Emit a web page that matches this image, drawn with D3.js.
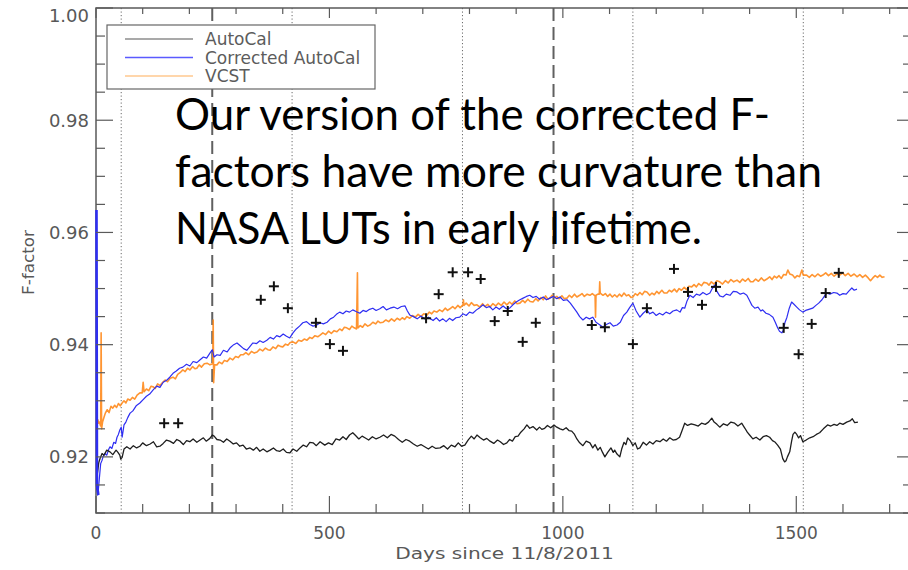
<!DOCTYPE html>
<html>
<head>
<meta charset="utf-8">
<script src="https://cdn.jsdelivr.net/npm/d3@7"></script>
<style>
  body { margin: 0; background: #fff; }
  svg { display: block; }
</style>
</head>
<body>
<svg id="chart" width="908" height="570"></svg>
<script>
// F-factor time series, days since 11/8/2011
const autocalDays = [0,2,4,6,9,13,17,23,30,36,43,47,51,53,56,60,66,73,80,87,94,100,108,116,123,130,137,144,151,158,166,173,180,187,194,201,208,216,223,230,236,244,249,253,259,266,273,280,287,294,301,308,315,322,330,337,344,351,358,366,373,380,387,394,401,408,415,422,430,437,444,451,458,465,472,480,490,498,506,514,522,529,536,543,550,556,563,570,576,584,592,600,608,616,624,632,640,648,656,664,672,680,688,696,704,712,720,728,737,745,753,761,769,776,783,790,797,804,810,816,823,830,837,844,852,860,866,873,880,886,892,898,904,910,917,923,929,936,944,950,955,961,967,974,981,987,994,1000,1007,1013,1019,1025,1030,1036,1043,1050,1058,1064,1069,1075,1080,1085,1090,1096,1103,1108,1111,1116,1122,1126,1131,1135,1139,1145,1150,1155,1160,1165,1172,1179,1186,1193,1200,1208,1215,1222,1229,1236,1243,1250,1255,1261,1267,1275,1283,1290,1297,1305,1312,1319,1324,1330,1336,1344,1352,1360,1368,1375,1383,1390,1395,1400,1407,1414,1422,1429,1436,1443,1449,1455,1460,1466,1471,1475,1478,1481,1486,1490,1493,1497,1501,1505,1509,1514,1521,1529,1536,1543,1550,1558,1567,1574,1581,1587,1593,1600,1608,1615,1620,1625,1632];
const autocalValues = [.9141,.9165,.9177,.9190,.9198,.9206,.9203,.9212,.9209,.9204,.9212,.9208,.9203,.9196,.9199,.9214,.9218,.9214,.9220,.9216,.9219,.9225,.9220,.9223,.9227,.9218,.9219,.9224,.9230,.9228,.9224,.9231,.9228,.9222,.9229,.9227,.9232,.9226,.9230,.9234,.9228,.9233,.9239,.9237,.9231,.9230,.9226,.9232,.9228,.9223,.9225,.9219,.9221,.9214,.9216,.9212,.9217,.9210,.9214,.9209,.9212,.9216,.9211,.9210,.9214,.9208,.9207,.9214,.9210,.9216,.9221,.9218,.9226,.9225,.9220,.9227,.9221,.9225,.9222,.9232,.9230,.9236,.9231,.9239,.9243,.9238,.9232,.9237,.9234,.9230,.9236,.9232,.9235,.9239,.9234,.9240,.9237,.9231,.9226,.9231,.9228,.9223,.9219,.9222,.9218,.9214,.9219,.9215,.9216,.9220,.9214,.9221,.9218,.9225,.9219,.9221,.9230,.9237,.9232,.9239,.9234,.9230,.9233,.9228,.9224,.9230,.9227,.9222,.9225,.9231,.9228,.9236,.9237,.9244,.9250,.9257,.9251,.9254,.9248,.9253,.9249,.9251,.9256,.9252,.9257,.9253,.9250,.9248,.9252,.9247,.9246,.9240,.9232,.9225,.9220,.9228,.9225,.9216,.9222,.9212,.9217,.9208,.9200,.9208,.9216,.9208,.9212,.9205,.9200,.9214,.9226,.9222,.9234,.9228,.9220,.9225,.9214,.9216,.9226,.9221,.9227,.9223,.9229,.9227,.9232,.9228,.9234,.9230,.9231,.9235,.9246,.9260,.9256,.9259,.9257,.9255,.9260,.9258,.9262,.9269,.9262,.9258,.9253,.9259,.9256,.9262,.9260,.9255,.9260,.9251,.9244,.9239,.9232,.9235,.9230,.9236,.9238,.9235,.9229,.9226,.9221,.9214,.9197,.9191,.9193,.9200,.9209,.9228,.9240,.9244,.9240,.9234,.9238,.9227,.9230,.9234,.9236,.9240,.9243,.9250,.9257,.9255,.9258,.9256,.9260,.9258,.9262,.9264,.9268,.9261,.9262];

const correctedDays = [0,1,4,7,10,13,15,19,23,27,30,34,38,42,45,48,51,54,56,58,60,64,68,73,79,86,94,101,108,115,122,130,137,144,152,158,165,172,179,186,194,201,208,216,223,230,237,244,249,253,259,266,273,281,288,295,302,309,316,323,330,336,344,351,358,366,373,380,387,394,401,408,415,422,429,436,443,451,458,465,473,480,487,495,502,509,515,522,529,536,543,550,557,565,572,579,586,593,600,608,615,622,630,638,646,654,662,667,672,680,688,696,704,712,715,722,729,736,743,750,757,764,771,779,786,793,800,807,815,822,829,836,843,850,857,864,872,879,886,893,900,908,915,922,929,936,943,950,958,965,972,980,987,994,1001,1009,1016,1023,1030,1036,1043,1050,1057,1064,1071,1078,1086,1093,1101,1108,1116,1123,1130,1137,1143,1150,1157,1165,1172,1180,1186,1193,1200,1207,1214,1221,1229,1236,1244,1251,1256,1261,1266,1272,1279,1286,1293,1300,1308,1315,1320,1325,1330,1336,1343,1350,1358,1365,1373,1380,1387,1394,1399,1405,1411,1418,1424,1428,1435,1442,1450,1455,1460,1464,1469,1472,1476,1480,1485,1490,1495,1501,1507,1514,1520,1527,1535,1542,1548,1555,1560,1565,1572,1580,1587,1593,1600,1607,1613,1619,1624,1630];
const correctedValues = [.9640,.9150,.9132,.9160,.9188,.9194,.9200,.9206,.9203,.9213,.9218,.9215,.9226,.9224,.9235,.9240,.9248,.9253,.9235,.9246,.9257,.9262,.9270,.9278,.9282,.9291,.9296,.9302,.9308,.9312,.9319,.9326,.9324,.9333,.9337,.9342,.9349,.9353,.9358,.9360,.9365,.9362,.9370,.9368,.9373,.9378,.9376,.9385,.9391,.9378,.9382,.9381,.9390,.9387,.9395,.9400,.9403,.9398,.9393,.9390,.9397,.9403,.9402,.9407,.9404,.9408,.9413,.9410,.9416,.9414,.9419,.9415,.9412,.9421,.9428,.9433,.9439,.9441,.9436,.9433,.9435,.9439,.9437,.9440,.9446,.9449,.9454,.9458,.9455,.9460,.9458,.9462,.9459,.9456,.9461,.9459,.9463,.9465,.9461,.9464,.9468,.9462,.9465,.9467,.9464,.9468,.9469,.9460,.9453,.9450,.9446,.9451,.9446,.9449,.9447,.9443,.9448,.9442,.9446,.9441,.9447,.9443,.9448,.9449,.9455,.9452,.9458,.9456,.9462,.9466,.9471,.9466,.9468,.9462,.9467,.9463,.9469,.9464,.9465,.9471,.9476,.9480,.9483,.9486,.9488,.9484,.9486,.9481,.9485,.9480,.9483,.9486,.9482,.9485,.9479,.9480,.9474,.9466,.9458,.9450,.9444,.9449,.9446,.9449,.9440,.9436,.9431,.9436,.9439,.9433,.9435,.9440,.9452,.9458,.9466,.9474,.9460,.9449,.9456,.9462,.9455,.9458,.9452,.9456,.9453,.9458,.9455,.9460,.9462,.9458,.9466,.9465,.9478,.9488,.9484,.9490,.9488,.9493,.9489,.9492,.9500,.9506,.9495,.9487,.9485,.9490,.9488,.9495,.9494,.9490,.9492,.9488,.9480,.9470,.9465,.9467,.9460,.9462,.9456,.9454,.9449,.9440,.9430,.9424,.9421,.9425,.9440,.9449,.9465,.9476,.9472,.9467,.9462,.9458,.9461,.9463,.9465,.9470,.9474,.9480,.9486,.9492,.9490,.9493,.9492,.9488,.9491,.9490,.9496,.9501,.9497,.9499];

const vcstDays = [0,2,4,6,8,9,10,11,12,14,17,20,24,28,32,36,40,44,48,52,56,60,64,68,73,78,83,88,94,99,101,103,108,113,118,122,127,132,137,143,148,153,159,165,170,175,180,186,191,196,201,207,212,216,221,226,232,238,244,250,251,252,254,259,264,270,275,281,287,293,299,305,310,315,321,327,333,339,345,351,357,363,368,373,379,385,390,395,400,406,411,416,422,428,434,440,446,452,458,463,469,475,480,486,492,498,504,510,516,522,527,532,537,543,548,553,558,560,561,566,571,576,582,587,593,599,604,609,615,621,627,633,639,645,651,656,661,666,672,678,684,690,696,702,709,714,719,724,730,736,742,748,753,758,764,769,775,780,786,787,788,793,799,804,810,816,822,828,833,839,844,850,856,862,868,874,880,886,891,897,902,908,914,919,925,930,936,942,947,953,958,963,968,972,977,982,987,992,998,1003,1009,1014,1019,1025,1030,1036,1041,1046,1052,1058,1063,1069,1070,1071,1075,1078,1079,1080,1086,1091,1096,1101,1106,1111,1116,1121,1126,1131,1136,1141,1146,1150,1155,1160,1165,1170,1175,1180,1186,1191,1196,1201,1206,1212,1217,1223,1228,1233,1239,1244,1249,1254,1260,1265,1270,1276,1281,1286,1291,1297,1302,1308,1313,1318,1324,1330,1336,1342,1348,1354,1360,1366,1373,1379,1385,1391,1397,1402,1407,1413,1419,1425,1431,1437,1443,1448,1453,1458,1463,1468,1473,1478,1482,1486,1492,1497,1502,1507,1512,1515,1522,1528,1534,1540,1546,1552,1557,1563,1569,1575,1581,1587,1593,1599,1605,1611,1617,1624,1630,1636,1642,1648,1654,1659,1664,1669,1674,1679,1684,1689];
const vcstValues = [.9251,.9258,.9266,.9260,.9262,.9257,.9255,.9421,.9250,.9262,.9270,.9278,.9284,.9279,.9290,.9287,.9292,.9288,.9295,.9291,.9296,.9300,.9296,.9303,.9301,.9306,.9303,.9310,.9314,.9314,.9333,.9316,.9321,.9318,.9326,.9325,.9322,.9330,.9327,.9333,.9337,.9334,.9340,.9342,.9339,.9347,.9350,.9355,.9352,.9358,.9355,.9361,.9357,.9358,.9364,.9360,.9366,.9367,.9364,.9366,.9444,.9332,.9364,.9364,.9369,.9366,.9372,.9370,.9376,.9373,.9379,.9377,.9382,.9382,.9386,.9382,.9388,.9385,.9387,.9392,.9389,.9394,.9391,.9390,.9396,.9393,.9399,.9397,.9396,.9401,.9399,.9404,.9405,.9402,.9408,.9406,.9410,.9408,.9413,.9411,.9416,.9414,.9417,.9421,.9418,.9424,.9420,.9425,.9423,.9428,.9425,.9431,.9430,.9427,.9433,.9430,.9428,.9528,.9430,.9434,.9431,.9437,.9433,.9435,.9440,.9437,.9442,.9439,.9440,.9444,.9441,.9446,.9442,.9447,.9444,.9448,.9445,.9450,.9447,.9452,.9449,.9454,.9450,.9455,.9453,.9458,.9455,.9460,.9458,.9462,.9459,.9465,.9461,.9464,.9468,.9464,.9470,.9466,.9471,.9480,.9470,.9474,.9469,.9475,.9470,.9471,.9467,.9473,.9468,.9472,.9467,.9473,.9469,.9474,.9470,.9476,.9471,.9476,.9472,.9478,.9473,.9474,.9479,.9475,.9481,.9477,.9476,.9482,.9478,.9484,.9480,.9487,.9481,.9483,.9488,.9484,.9486,.9482,.9487,.9482,.9483,.9488,.9484,.9490,.9485,.9488,.9491,.9486,.9490,.9488,.9491,.9487,.9449,.9488,.9490,.9490,.9512,.9492,.9488,.9491,.9486,.9490,.9485,.9489,.9485,.9490,.9486,.9492,.9487,.9489,.9484,.9485,.9491,.9488,.9493,.9489,.9495,.9494,.9488,.9492,.9489,.9495,.9491,.9497,.9492,.9492,.9497,.9494,.9499,.9494,.9500,.9497,.9502,.9498,.9504,.9503,.9507,.9503,.9509,.9505,.9511,.9510,.9506,.9512,.9508,.9514,.9512,.9508,.9514,.9510,.9516,.9512,.9515,.9511,.9517,.9513,.9518,.9512,.9512,.9517,.9513,.9519,.9514,.9517,.9521,.9516,.9522,.9519,.9523,.9518,.9525,.9524,.9533,.9526,.9524,.9519,.9523,.9521,.9533,.9524,.9524,.9520,.9525,.9521,.9526,.9522,.9524,.9528,.9523,.9527,.9522,.9526,.9524,.9528,.9523,.9527,.9522,.9526,.9521,.9525,.9520,.9524,.9519,.9514,.9519,.9523,.9520,.9524,.9520,.9521];

// monthly reference points
const markerDays = [146,176,353,381,411,471,501,529,707,734,764,797,824,854,882,914,942,1062,1090,1150,1180,1238,1268,1298,1328,1473,1505,1533,1563,1591];
const markerValues = [0.9260,0.9260,0.9480,0.9504,0.9465,0.9439,0.9401,0.9389,0.9447,0.9490,0.9529,0.9529,0.9517,0.9442,0.9460,0.9405,0.9439,0.9435,0.9431,0.9401,0.9465,0.9535,0.9494,0.9471,0.9503,0.9430,0.9383,0.9437,0.9492,0.9528];

const yearStartDays = [54, 420, 785, 1150, 1515];
const eventDays = [249, 980];

const xTickValues = [0, 500, 1000, 1500];
const xMinorStep = 100;
const yTickValues = [0.92, 0.94, 0.96, 0.98, 1.00];
const yMinorStep = 0.005;

const seriesNames = ["AutoCal", "Corrected AutoCal", "VCST"];
const seriesColors = ["#1e1e1e", "#2e2ef2", "#ff8a1c"];
const legendColors = ["#8c8c8c", "#5a5aff", "#ffc88f"];

const noteLines = ["Our version of the corrected F-", "factors have more curvature than", "NASA LUTs in early lifetime."];

// ---------------------------------------------------------------
[[autocalDays, autocalValues], [correctedDays, correctedValues], [vcstDays, vcstValues], [markerDays, markerValues]]
  .forEach(([a, b], i) => { if (a.length !== b.length) throw new Error(`series ${i}: ${a.length} days vs ${b.length} values`); });

const svg = d3.select("#chart");
const pL = 96, pR = 913, pT = 8, pB = 513;
const x = d3.scaleLinear().domain([0, 1750]).range([pL, pR]);
const y = d3.scaleLinear().domain([0.91, 1.00]).range([pB, pT]);
const axisColor = "#5a5a5a";
const labelFont = "DejaVu Sans, sans-serif";
const labelColor = "#585858";

svg.append("defs").append("clipPath").attr("id", "plotClip")
  .append("rect").attr("x", pL).attr("y", pT).attr("width", pR - pL).attr("height", pB - pT);

// year boundaries (dotted) and events (dashed)
svg.append("g").selectAll("line").data(yearStartDays).join("line")
  .attr("x1", d => x(d)).attr("x2", d => x(d)).attr("y1", pT).attr("y2", pB)
  .attr("stroke", "#6a6a6a").attr("stroke-width", 1).attr("stroke-dasharray", "1.2,2.3");
svg.append("g").selectAll("line").data(eventDays).join("line")
  .attr("x1", d => x(d)).attr("x2", d => x(d)).attr("y1", pT).attr("y2", pB)
  .attr("stroke", "#606060").attr("stroke-width", 2).attr("stroke-dasharray", "13,6");

// data lines
const line = d3.line().x(d => x(d[0])).y(d => y(d[1]));
const plot = svg.append("g").attr("clip-path", "url(#plotClip)");
const series = [
  d3.zip(autocalDays, autocalValues),
  d3.zip(correctedDays, correctedValues),
  d3.zip(vcstDays, vcstValues)
];
const widths = [1.3, 1.2, 1.6];
[2, 1, 0].forEach(i => {
  plot.append("path").datum(series[i]).attr("d", line)
    .attr("fill", "none").attr("stroke", seriesColors[i]).attr("stroke-width", widths[i])
    .attr("stroke-linejoin", "round").attr("stroke-opacity", i === 2 ? 0.9 : 1);
});

// plus markers
const marks = plot.append("g").attr("stroke", "#111").attr("stroke-width", 2);
d3.zip(markerDays, markerValues).forEach(([d, v]) => {
  const cx = x(d), cy = y(v);
  marks.append("line").attr("x1", cx - 5).attr("x2", cx + 5).attr("y1", cy).attr("y2", cy);
  marks.append("line").attr("x1", cx).attr("x2", cx).attr("y1", cy - 5).attr("y2", cy + 5);
});

// frame
svg.append("rect").attr("x", pL).attr("y", pT).attr("width", pR - pL).attr("height", pB - pT)
  .attr("stroke", axisColor).attr("stroke-width", 1.5).attr("fill", "none");

// the corrected series starts on the left axis itself, so draw its first segment above the frame
svg.append("path").datum(series[1].slice(0, 3))
  .attr("d", d3.line().x(d => x(d[0]) + 0.5).y(d => y(d[1])))
  .attr("fill", "none").attr("stroke", seriesColors[1]).attr("stroke-width", 2.6);

// ticks
const ticks = svg.append("g").attr("stroke", axisColor).attr("stroke-width", 1.2);
d3.range(0, 1751, xMinorStep).forEach(d => {
  const major = d % 500 === 0;
  ticks.append("line").attr("x1", x(d)).attr("x2", x(d)).attr("y1", pB).attr("y2", pB - (major ? 17 : 9));
  ticks.append("line").attr("x1", x(d)).attr("x2", x(d)).attr("y1", pT).attr("y2", pT + (major ? 10 : 6));
});
d3.range(0, 19).map(i => 0.91 + i * yMinorStep).forEach((v, i) => {
  const major = i % 4 === 2;
  ticks.append("line").attr("x1", pL).attr("x2", pL + (major ? 17 : 9)).attr("y1", y(v)).attr("y2", y(v));
  ticks.append("line").attr("x1", pR).attr("x2", pR - (major ? 16 : 10)).attr("y1", y(v)).attr("y2", y(v));
});

// tick labels
svg.append("g").selectAll("text").data(yTickValues).join("text")
  .attr("x", 89).attr("y", d => Math.max(y(d), 15))
  .attr("text-anchor", "end").attr("dominant-baseline", "central")
  .attr("font-family", labelFont).attr("font-size", 18).attr("fill", labelColor)
  .text(d => d3.format(".2f")(d));
svg.append("g").selectAll("text").data(xTickValues).join("text")
  .attr("x", d => x(d)).attr("y", 533)
  .attr("text-anchor", "middle").attr("dominant-baseline", "central")
  .attr("font-family", labelFont).attr("font-size", 17).attr("fill", labelColor)
  .text(d => d);

// axis titles (wide, thin glyphs)
svg.append("text").attr("transform", `translate(${(pL + pR) / 2},553) scale(1.26,1)`)
  .attr("text-anchor", "middle").attr("dominant-baseline", "central")
  .attr("font-family", labelFont).attr("font-size", 16).attr("fill", labelColor)
  .text("Days since 11/8/2011");
svg.append("text").attr("transform", `translate(29,${(pT + pB) / 2 + 2}) rotate(-90) scale(1.12,1)`)
  .attr("text-anchor", "middle").attr("dominant-baseline", "central")
  .attr("font-family", labelFont).attr("font-size", 15).attr("fill", labelColor)
  .text("F-factor");

// legend
const lg = svg.append("g");
lg.append("rect").attr("x", 107).attr("y", 25).attr("width", 268).attr("height", 64)
  .attr("fill", "#fff").attr("stroke", "#666").attr("stroke-width", 1.2);
seriesNames.forEach((name, i) => {
  const ly = 39 + i * 18.5;
  lg.append("line").attr("x1", 125).attr("x2", 193).attr("y1", ly).attr("y2", ly)
    .attr("stroke", legendColors[i]).attr("stroke-width", 1.4);
  lg.append("text").attr("x", 205).attr("y", ly).attr("dominant-baseline", "central")
    .attr("font-family", labelFont).attr("font-size", 17).attr("fill", "#5c5c5c").text(name);
});

// annotation
const noteWidths = [595, 647, 527];
svg.append("g").selectAll("text").data(noteLines).join("text")
  .attr("x", 175).attr("y", (d, i) => 130 + i * 57)
  .attr("font-family", "Lato, 'Open Sans', sans-serif").attr("font-size", 44).attr("fill", "#000")
  .attr("textLength", (d, i) => noteWidths[i]).attr("lengthAdjust", "spacingAndGlyphs")
  .text(d => d);
</script>
</body>
</html>
